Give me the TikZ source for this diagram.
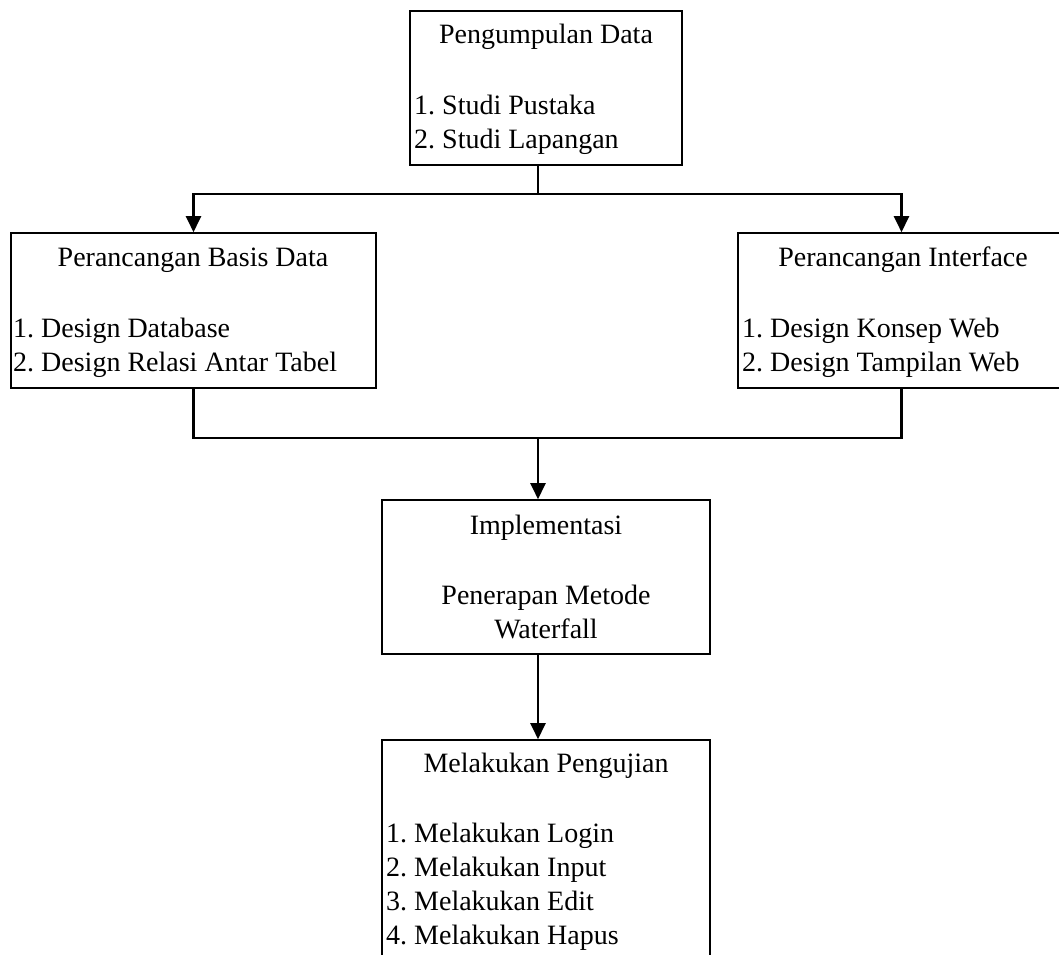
\documentclass[tikz,border=0pt]{standalone}
\usepackage{fontspec}
\setmainfont{Liberation Serif}
\usetikzlibrary{arrows.meta}
\frenchspacing
\begin{document}
\begin{tikzpicture}[x=1pt,y=-1pt,
  box/.style={draw=black, line width=1.6pt, rectangle, inner sep=0pt},
  title/.style={anchor=base, inner sep=0pt, font=\fontsize{28}{34}\selectfont},
  item/.style={anchor=base west, inner sep=0pt, font=\fontsize{28}{34}\selectfont},
  link/.style={line width=2.2pt},
  arrow/.style={line width=2.2pt, -{Triangle[length=16pt,width=15pt]}}]
\useasboundingbox (0,0) rectangle (1059,954);

% process boxes
\node[box, minimum width=272pt, minimum height=154pt] (pd)   at (546,88)    {};
\node[box, minimum width=365pt, minimum height=155pt] (pbd)  at (193.5,310.5) {};
\node[box, minimum width=327pt, minimum height=155pt] (pi)   at (901.5,310.5) {};
\node[box, minimum width=328pt, minimum height=154pt] (impl) at (546,577)   {};
\node[box, minimum width=328pt, minimum height=236pt] (test) at (546,858)   {};

% box texts
\node[title] (pdT) at (546,43) {Pengumpulan Data};
\node[item] (pd1) at (414,114) {1. Studi Pustaka};
\node[item] (pd2) at (414,148) {2. Studi Lapangan};

\node[title] (pbdT) at (193,266) {Perancangan Basis Data};
\node[item] (pbd1) at (13,337) {1. Design Database};
\node[item] (pbd2) at (13,371) {2. Design Relasi Antar Tabel};

\node[title] (piT) at (903,266) {Perancangan Interface};
\node[item] (pi1) at (742,337) {1. Design Konsep Web};
\node[item] (pi2) at (742,371) {2. Design Tampilan Web};

\node[title] (implT) at (546,534) {Implementasi};
\node[title] (impl1) at (546,604) {Penerapan Metode};
\node[title] (impl2) at (546,638) {Waterfall};

\node[title] (testT) at (546,772) {Melakukan Pengujian};
\node[item] (test1) at (386,842) {1. Melakukan Login};
\node[item] (test2) at (386,876) {2. Melakukan Input};
\node[item] (test3) at (386,910) {3. Melakukan Edit};
\node[item] (test4) at (386,944) {4. Melakukan Hapus};

% connectors
\coordinate (split) at (538,194);
\coordinate (join)  at (538,438);
\draw[link] (pd.south -| split) -- (split);
\draw[arrow] (split) -| (pbd.north);
\draw[arrow] (split) -| (pi.north);
\draw[link] (pbd.south) |- (join) -| (pi.south);
\draw[arrow] (join) -- (impl.north -| join);
\draw[arrow] (impl.south -| join) -- (test.north -| join);
\end{tikzpicture}
\end{document}
